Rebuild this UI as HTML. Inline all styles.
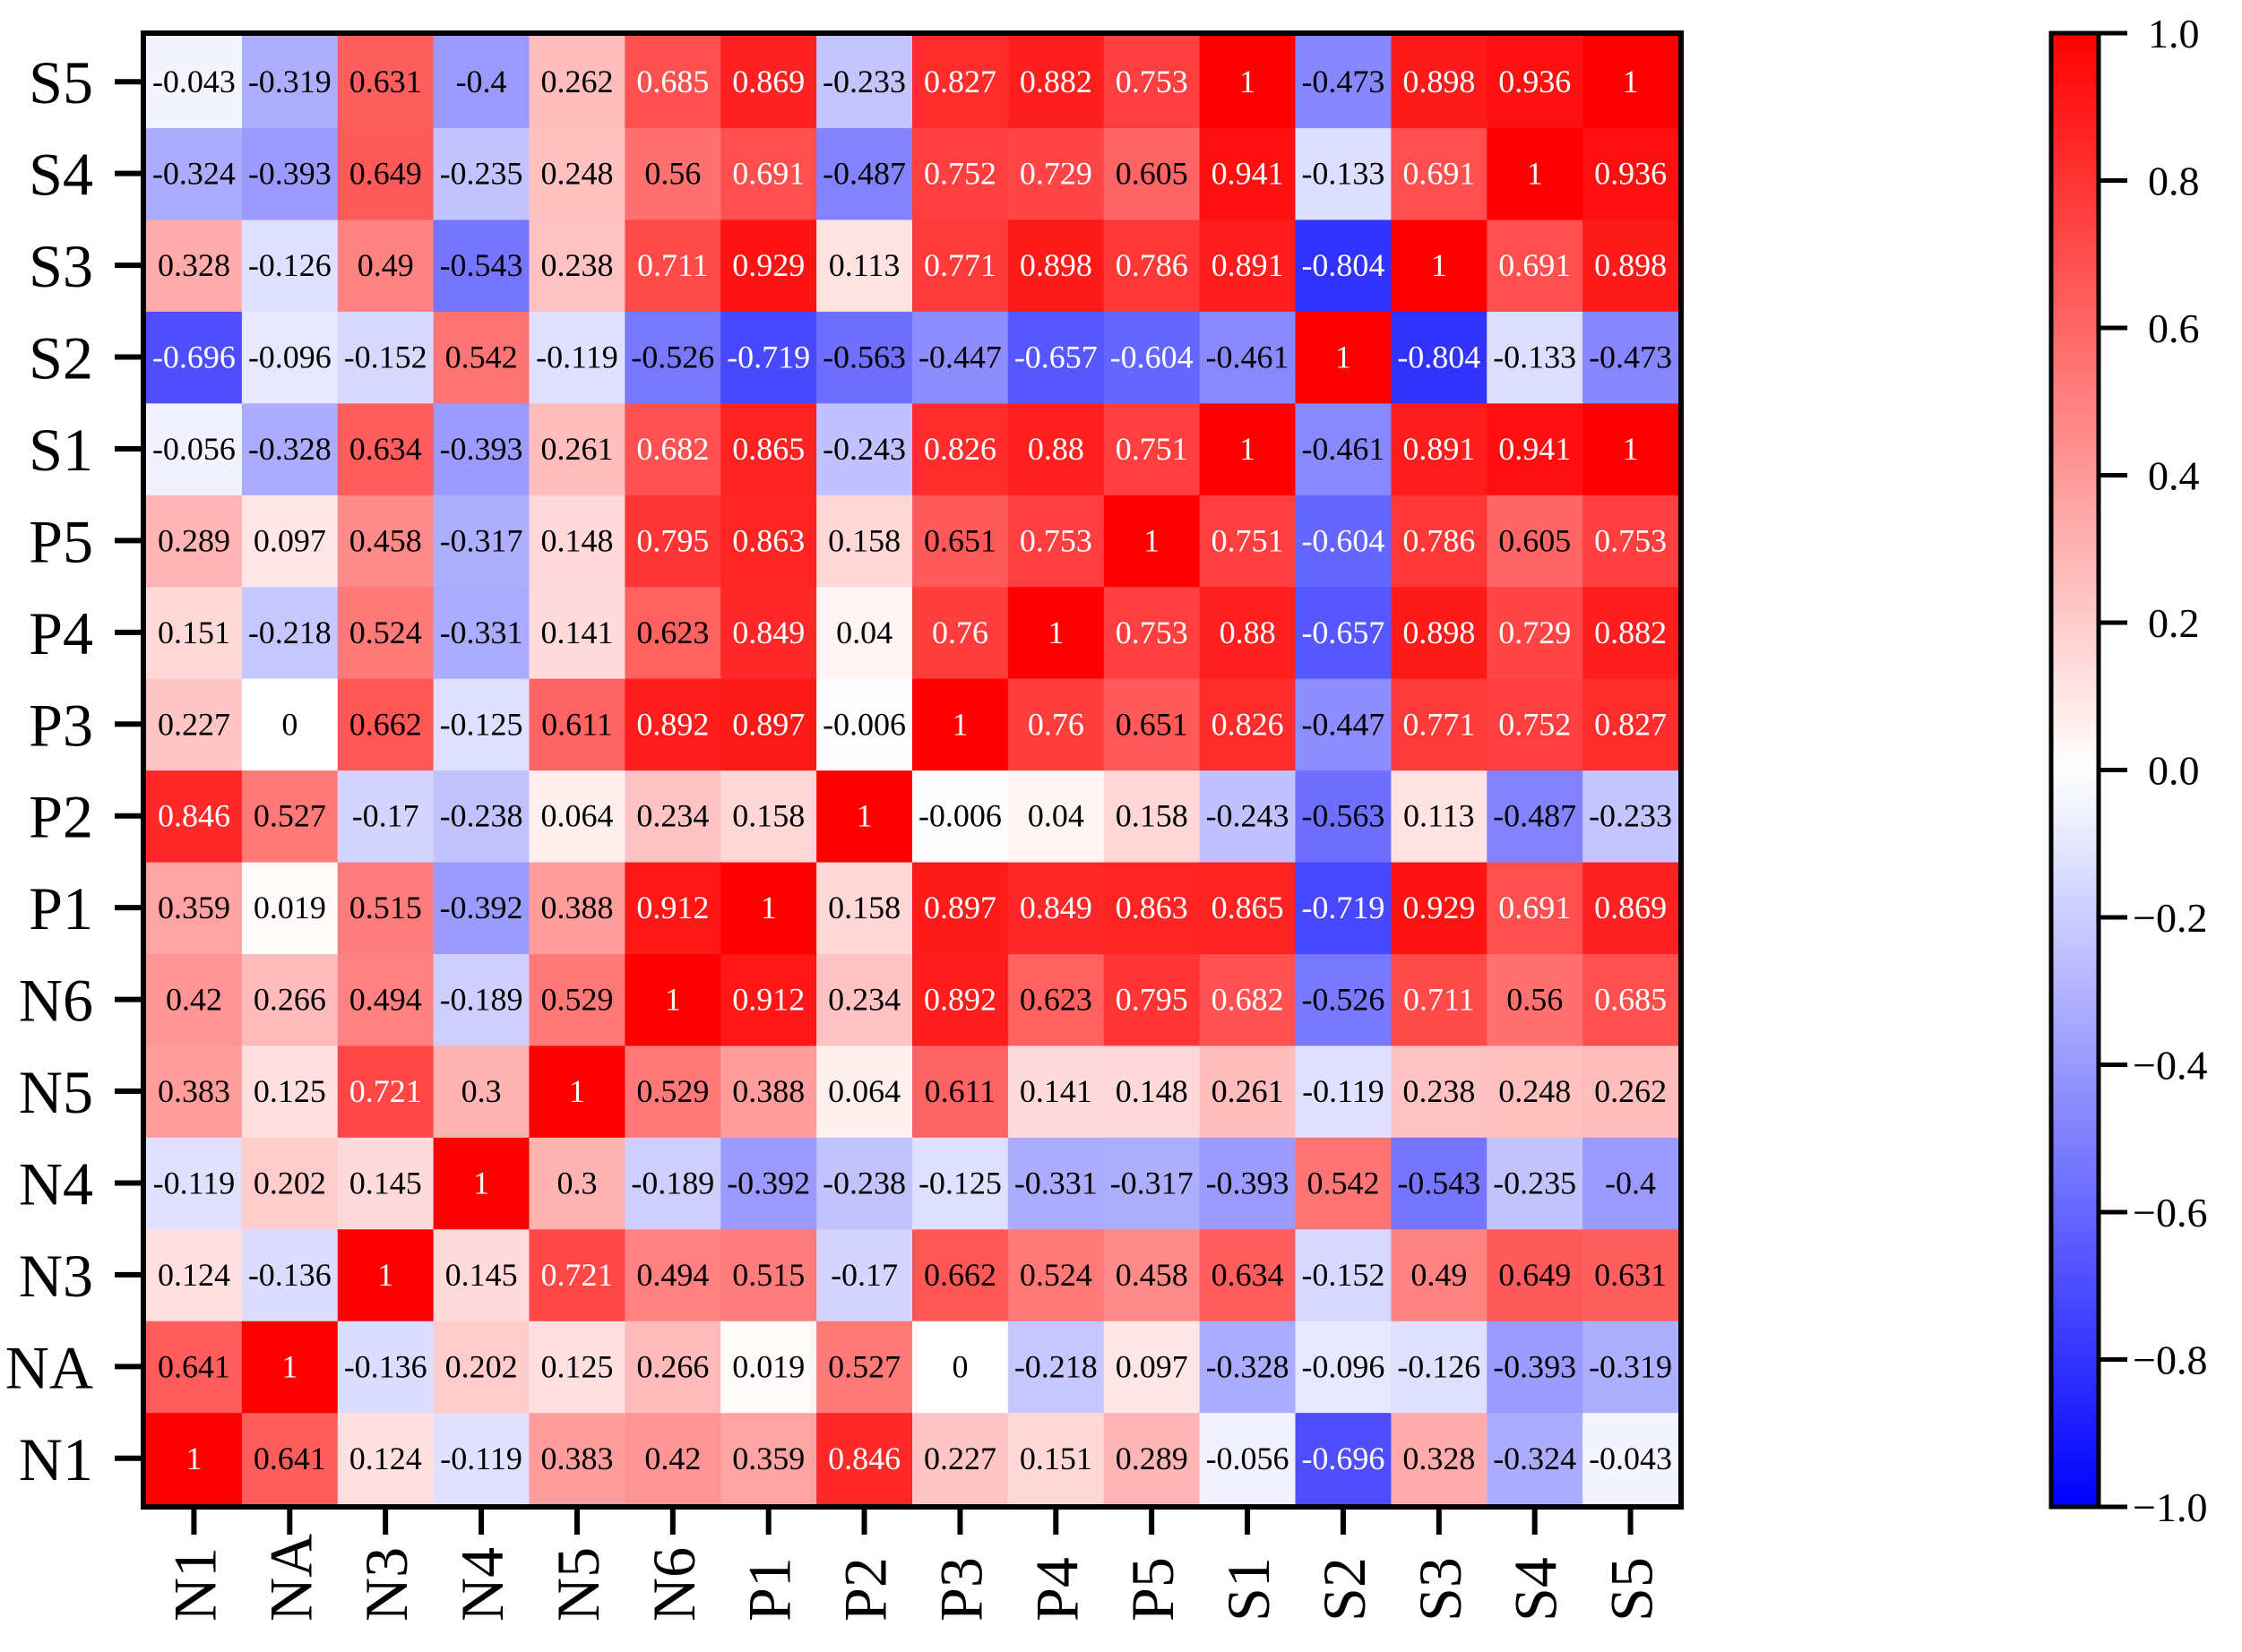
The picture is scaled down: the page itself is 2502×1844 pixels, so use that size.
<!DOCTYPE html>
<html><head><meta charset="utf-8"><style>
html,body{margin:0;padding:0;background:#fff;}
svg{display:block;font-family:"Liberation Serif","Times New Roman",serif;}
</style></head><body>
<svg id="chart" width="2502" height="1844" viewBox="0 0 2502 1844" xmlns="http://www.w3.org/2000/svg">
<g id="cells"></g>
<g id="yaxis"></g>
<g id="xaxis"></g>
<rect x="160" y="37" width="1716" height="1645" fill="none" stroke="#000" stroke-width="6"/>
<defs><linearGradient id="cbg" x1="0" y1="1" x2="0" y2="0">
<stop offset="0" stop-color="#0000ff"/><stop offset="0.5" stop-color="#ffffff"/><stop offset="1" stop-color="#ff0000"/></linearGradient></defs>
<g id="cbar"></g>
</svg>
<script>
const labels = ["N1","NA","N3","N4","N5","N6","P1","P2","P3","P4","P5","S1","S2","S3","S4","S5"];
const rowN1 = [1,0.641,0.124,-0.119,0.383,0.42,0.359,0.846,0.227,0.151,0.289,-0.056,-0.696,0.328,-0.324,-0.043];
const rowNA = [0.641,1,-0.136,0.202,0.125,0.266,0.019,0.527,0,-0.218,0.097,-0.328,-0.096,-0.126,-0.393,-0.319];
const rowN3 = [0.124,-0.136,1,0.145,0.721,0.494,0.515,-0.17,0.662,0.524,0.458,0.634,-0.152,0.49,0.649,0.631];
const rowN4 = [-0.119,0.202,0.145,1,0.3,-0.189,-0.392,-0.238,-0.125,-0.331,-0.317,-0.393,0.542,-0.543,-0.235,-0.4];
const rowN5 = [0.383,0.125,0.721,0.3,1,0.529,0.388,0.064,0.611,0.141,0.148,0.261,-0.119,0.238,0.248,0.262];
const rowN6 = [0.42,0.266,0.494,-0.189,0.529,1,0.912,0.234,0.892,0.623,0.795,0.682,-0.526,0.711,0.56,0.685];
const rowP1 = [0.359,0.019,0.515,-0.392,0.388,0.912,1,0.158,0.897,0.849,0.863,0.865,-0.719,0.929,0.691,0.869];
const rowP2 = [0.846,0.527,-0.17,-0.238,0.064,0.234,0.158,1,-0.006,0.04,0.158,-0.243,-0.563,0.113,-0.487,-0.233];
const rowP3 = [0.227,0,0.662,-0.125,0.611,0.892,0.897,-0.006,1,0.76,0.651,0.826,-0.447,0.771,0.752,0.827];
const rowP4 = [0.151,-0.218,0.524,-0.331,0.141,0.623,0.849,0.04,0.76,1,0.753,0.88,-0.657,0.898,0.729,0.882];
const rowP5 = [0.289,0.097,0.458,-0.317,0.148,0.795,0.863,0.158,0.651,0.753,1,0.751,-0.604,0.786,0.605,0.753];
const rowS1 = [-0.056,-0.328,0.634,-0.393,0.261,0.682,0.865,-0.243,0.826,0.88,0.751,1,-0.461,0.891,0.941,1];
const rowS2 = [-0.696,-0.096,-0.152,0.542,-0.119,-0.526,-0.719,-0.563,-0.447,-0.657,-0.604,-0.461,1,-0.804,-0.133,-0.473];
const rowS3 = [0.328,-0.126,0.49,-0.543,0.238,0.711,0.929,0.113,0.771,0.898,0.786,0.891,-0.804,1,0.691,0.898];
const rowS4 = [-0.324,-0.393,0.649,-0.235,0.248,0.56,0.691,-0.487,0.752,0.729,0.605,0.941,-0.133,0.691,1,0.936];
const rowS5 = [-0.043,-0.319,0.631,-0.4,0.262,0.685,0.869,-0.233,0.827,0.882,0.753,1,-0.473,0.898,0.936,1];
const cbTicks = [1.0,0.8,0.6,0.4,0.2,0.0,-0.2,-0.4,-0.6,-0.8,-1.0];
const cbTickLabels = ["1.0","0.8","0.6","0.4","0.2","0.0","\u22120.2","\u22120.4","\u22120.6","\u22120.8","\u22121.0"];

const matrix = [rowN1,rowNA,rowN3,rowN4,rowN5,rowN6,rowP1,rowP2,rowP3,rowP4,rowP5,rowS1,rowS2,rowS3,rowS4,rowS5];
const NS="http://www.w3.org/2000/svg";
const X0=163,X1=1873,Y0=40,Y1=1679;
const n=labels.length, cw=(X1-X0)/n, ch=(Y1-Y0)/n;
const xPos=i=>X0+i*cw;
const yPos=r=>Y1-(r+1)*ch;
function color(v){
  let r,g,b;
  if(v>=0){r=255;g=b=Math.round(255*(1-v));}
  else{b=255;r=g=Math.round(255*(1+v));}
  return `rgb(${r},${g},${b})`;
}
function mk(tag,attrs,parent){const e=document.createElementNS(NS,tag);for(const k in attrs)e.setAttribute(k,attrs[k]);parent.appendChild(e);return e;}
const cells=document.getElementById('cells');
matrix.forEach((row,r)=>{
  row.forEach((v,c)=>{
    const rect=mk('rect',{x:xPos(c),y:yPos(r),width:cw+0.6,height:ch+0.6,fill:color(v)},cells);
    
    
    const white = v>=0.68 || v<=-0.6;
    const t=mk('text',{x:xPos(c)+cw/2,y:yPos(r)+ch/2+12,'text-anchor':'middle','font-size':36,fill:white?'#fff':'#000'},cells);
    
    
    t.textContent=String(v);
  });
});
const ya=document.getElementById('yaxis');
labels.forEach((l,r)=>{
  const cy=yPos(r)+ch/2;
  const tk=mk('line',{x1:128,x2:160,y1:cy,y2:cy,stroke:'#000','stroke-width':6},ya);
  
  
  const t=mk('text',{x:104,y:cy+24,'text-anchor':'end','font-size':68},ya);
  
  
  t.textContent=l;
});
const xa=document.getElementById('xaxis');
labels.forEach((l,c)=>{
  const cx=xPos(c)+cw/2;
  const tk=mk('line',{x1:cx,x2:cx,y1:1682,y2:1713,stroke:'#000','stroke-width':6},xa);
  
  
  const t=mk('text',{x:0,y:0,'text-anchor':'start','font-size':68,transform:`translate(${cx+24},1810) rotate(-90)`},xa);
  
  
  t.textContent=l;
});
const cb=document.getElementById('cbar');
const CB0=37,CB1=1682;
const cbY=v=>CB1-(v+1)/2*(CB1-CB0);
const br=mk('rect',{x:2289,y:CB0,width:53,height:CB1-CB0,fill:'url(#cbg)',stroke:'#000','stroke-width':5},cb);


cbTicks.forEach((v,i)=>{
  const y=cbY(v);
  const tk=mk('line',{x1:2342,x2:2374,y1:y,y2:y,stroke:'#000','stroke-width':5},cb);
  
  
  const t=mk('text',{x:v<0?2380:2397,y:y+16,'font-size':46},cb);
  
  
  t.textContent=cbTickLabels[i];
});
</script>
</body></html>
